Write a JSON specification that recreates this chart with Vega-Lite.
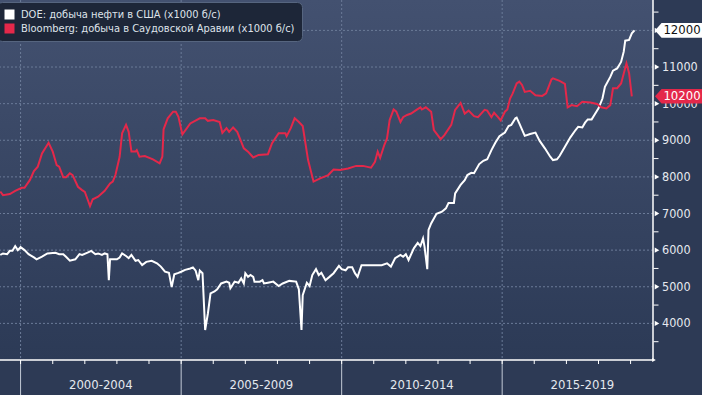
{
  "$schema": "https://vega.github.io/schema/vega-lite/v6.json",
  "width": 653,
  "height": 360,
  "autosize": {"type": "none"},
  "padding": {"left": 0, "top": 0, "right": 49, "bottom": 35},
  "background": "#2d3a55",
  "config": {
    "font": "DejaVu Sans Condensed",
    "view": {"stroke": null, "fill": {"gradient": "linear", "x1": 0, "y1": 0, "x2": 0, "y2": 1, "stops": [{"offset": 0, "color": "#435170"}, {"offset": 1, "color": "#2c3a56"}]}}
  },
  "datasets": {
    "doe": [
      {"date": "1999-05-15", "value": 5870}, {"date": "1999-06-15", "value": 5910}, {"date": "1999-08-01", "value": 5890}, {"date": "1999-09-01", "value": 5980}, {"date": "1999-10-01", "value": 5980}, {"date": "1999-11-01", "value": 6110}, {"date": "1999-12-01", "value": 6000},
      {"date": "2000-01-01", "value": 6080}, {"date": "2000-02-15", "value": 6000}, {"date": "2000-04-01", "value": 5890}, {"date": "2000-06-01", "value": 5800}, {"date": "2000-07-01", "value": 5750}, {"date": "2000-09-01", "value": 5820}, {"date": "2000-11-01", "value": 5910},
      {"date": "2001-02-01", "value": 5930}, {"date": "2001-03-15", "value": 5890}, {"date": "2001-05-01", "value": 5890}, {"date": "2001-06-01", "value": 5820}, {"date": "2001-07-15", "value": 5710}, {"date": "2001-09-15", "value": 5750}, {"date": "2001-11-01", "value": 5890}, {"date": "2001-12-01", "value": 5870},
      {"date": "2002-02-01", "value": 5930}, {"date": "2002-03-15", "value": 5980}, {"date": "2002-05-01", "value": 5890}, {"date": "2002-06-01", "value": 5910}, {"date": "2002-07-15", "value": 5870}, {"date": "2002-08-15", "value": 5910}, {"date": "2002-09-15", "value": 5890}, {"date": "2002-10-01", "value": 5180}, {"date": "2002-10-15", "value": 5750},
      {"date": "2003-01-01", "value": 5750}, {"date": "2003-02-01", "value": 5800}, {"date": "2003-03-01", "value": 5910}, {"date": "2003-04-15", "value": 5840}, {"date": "2003-05-15", "value": 5780}, {"date": "2003-06-15", "value": 5870}, {"date": "2003-08-01", "value": 5710}, {"date": "2003-09-01", "value": 5730}, {"date": "2003-10-15", "value": 5590}, {"date": "2003-12-01", "value": 5680},
      {"date": "2004-02-01", "value": 5710}, {"date": "2004-04-01", "value": 5640}, {"date": "2004-05-15", "value": 5550}, {"date": "2004-07-01", "value": 5410}, {"date": "2004-08-15", "value": 5380}, {"date": "2004-09-15", "value": 4990}, {"date": "2004-10-15", "value": 5340}, {"date": "2004-12-01", "value": 5380},
      {"date": "2005-01-01", "value": 5410}, {"date": "2005-02-15", "value": 5460}, {"date": "2005-04-15", "value": 5500}, {"date": "2005-05-15", "value": 5530}, {"date": "2005-06-15", "value": 5440}, {"date": "2005-07-15", "value": 5180}, {"date": "2005-08-01", "value": 5440}, {"date": "2005-09-01", "value": 5370}, {"date": "2005-10-01", "value": 3820}, {"date": "2005-11-01", "value": 4270}, {"date": "2005-12-01", "value": 4820},
      {"date": "2006-01-15", "value": 4870}, {"date": "2006-02-15", "value": 4930}, {"date": "2006-04-01", "value": 5090}, {"date": "2006-06-01", "value": 5140}, {"date": "2006-07-01", "value": 5110}, {"date": "2006-07-15", "value": 4960}, {"date": "2006-09-01", "value": 5140}, {"date": "2006-10-15", "value": 5110}, {"date": "2006-11-15", "value": 5230}, {"date": "2006-12-15", "value": 5090},
      {"date": "2007-01-01", "value": 5370}, {"date": "2007-02-01", "value": 5270}, {"date": "2007-03-01", "value": 5320}, {"date": "2007-04-01", "value": 5270}, {"date": "2007-04-15", "value": 5140}, {"date": "2007-06-15", "value": 5140}, {"date": "2007-07-15", "value": 5180}, {"date": "2007-08-01", "value": 5090}, {"date": "2007-09-15", "value": 5110}, {"date": "2007-11-15", "value": 5140},
      {"date": "2008-01-15", "value": 5020}, {"date": "2008-03-01", "value": 5090}, {"date": "2008-05-15", "value": 5160}, {"date": "2008-08-01", "value": 5140}, {"date": "2008-09-01", "value": 4930}, {"date": "2008-10-01", "value": 3820}, {"date": "2008-10-15", "value": 4770}, {"date": "2008-12-01", "value": 5110},
      {"date": "2009-01-01", "value": 5020}, {"date": "2009-02-01", "value": 5320}, {"date": "2009-03-15", "value": 5480}, {"date": "2009-04-15", "value": 5320}, {"date": "2009-05-15", "value": 5380}, {"date": "2009-07-01", "value": 5180}, {"date": "2009-08-15", "value": 5270}, {"date": "2009-10-01", "value": 5370}, {"date": "2009-12-01", "value": 5570},
      {"date": "2010-01-01", "value": 5480}, {"date": "2010-02-15", "value": 5450}, {"date": "2010-03-15", "value": 5530}, {"date": "2010-05-01", "value": 5530}, {"date": "2010-06-01", "value": 5370}, {"date": "2010-07-01", "value": 5270}, {"date": "2010-08-15", "value": 5590}, {"date": "2010-10-15", "value": 5590},
      {"date": "2011-04-01", "value": 5590}, {"date": "2011-06-01", "value": 5640}, {"date": "2011-07-15", "value": 5550}, {"date": "2011-09-01", "value": 5780}, {"date": "2011-11-01", "value": 5870}, {"date": "2011-12-01", "value": 5820},
      {"date": "2012-01-01", "value": 5890}, {"date": "2012-02-01", "value": 5730}, {"date": "2012-04-01", "value": 6050}, {"date": "2012-05-15", "value": 6200}, {"date": "2012-06-15", "value": 6110}, {"date": "2012-07-15", "value": 6320}, {"date": "2012-08-01", "value": 6090}, {"date": "2012-09-01", "value": 5480}, {"date": "2012-09-15", "value": 6550}, {"date": "2012-10-15", "value": 6730}, {"date": "2012-12-15", "value": 6990},
      {"date": "2013-02-15", "value": 7050}, {"date": "2013-04-01", "value": 7140}, {"date": "2013-05-01", "value": 7290}, {"date": "2013-07-01", "value": 7290}, {"date": "2013-07-15", "value": 7550}, {"date": "2013-09-15", "value": 7780}, {"date": "2013-11-01", "value": 7910}, {"date": "2013-12-01", "value": 8050},
      {"date": "2014-01-15", "value": 8110}, {"date": "2014-02-15", "value": 8100}, {"date": "2014-04-15", "value": 8350}, {"date": "2014-06-01", "value": 8440}, {"date": "2014-07-15", "value": 8480}, {"date": "2014-09-01", "value": 8730}, {"date": "2014-10-15", "value": 8930}, {"date": "2014-12-01", "value": 9110},
      {"date": "2015-02-01", "value": 9210}, {"date": "2015-03-15", "value": 9390}, {"date": "2015-04-15", "value": 9420}, {"date": "2015-06-01", "value": 9600}, {"date": "2015-06-15", "value": 9620}, {"date": "2015-07-15", "value": 9460}, {"date": "2015-09-15", "value": 9120}, {"date": "2015-11-15", "value": 9170},
      {"date": "2016-01-15", "value": 9210}, {"date": "2016-03-01", "value": 8990}, {"date": "2016-05-01", "value": 8780}, {"date": "2016-07-01", "value": 8550}, {"date": "2016-08-01", "value": 8460}, {"date": "2016-09-15", "value": 8480}, {"date": "2016-10-15", "value": 8570}, {"date": "2016-12-15", "value": 8820},
      {"date": "2017-02-15", "value": 9080}, {"date": "2017-04-15", "value": 9280}, {"date": "2017-05-15", "value": 9370}, {"date": "2017-07-01", "value": 9350}, {"date": "2017-08-01", "value": 9480}, {"date": "2017-09-01", "value": 9570}, {"date": "2017-10-15", "value": 9570}, {"date": "2017-11-15", "value": 9690},
      {"date": "2018-01-01", "value": 9870}, {"date": "2018-02-15", "value": 10140}, {"date": "2018-03-15", "value": 10460}, {"date": "2018-05-15", "value": 10730}, {"date": "2018-06-15", "value": 10900}, {"date": "2018-08-01", "value": 10960}, {"date": "2018-09-15", "value": 11140}, {"date": "2018-10-15", "value": 11420}, {"date": "2018-11-01", "value": 11720}, {"date": "2018-12-15", "value": 11740},
      {"date": "2019-01-15", "value": 11920}, {"date": "2019-02-15", "value": 12000}
    ],
    "bloomberg": [
      {"date": "1999-05-15", "value": 7600}, {"date": "1999-06-15", "value": 7500}, {"date": "1999-09-01", "value": 7530}, {"date": "1999-11-01", "value": 7620},
      {"date": "2000-01-15", "value": 7700}, {"date": "2000-02-15", "value": 7700}, {"date": "2000-04-15", "value": 7910}, {"date": "2000-06-01", "value": 8160}, {"date": "2000-07-15", "value": 8280}, {"date": "2000-09-01", "value": 8640}, {"date": "2000-11-15", "value": 8930},
      {"date": "2001-01-01", "value": 8690}, {"date": "2001-02-15", "value": 8320}, {"date": "2001-03-15", "value": 8280}, {"date": "2001-05-01", "value": 7990}, {"date": "2001-06-01", "value": 7990}, {"date": "2001-07-15", "value": 8100}, {"date": "2001-08-15", "value": 8050}, {"date": "2001-10-15", "value": 7730}, {"date": "2001-12-01", "value": 7640},
      {"date": "2002-01-01", "value": 7590}, {"date": "2002-02-01", "value": 7390}, {"date": "2002-03-01", "value": 7200}, {"date": "2002-04-01", "value": 7390}, {"date": "2002-06-01", "value": 7460}, {"date": "2002-08-15", "value": 7620}, {"date": "2002-10-15", "value": 7820}, {"date": "2002-11-15", "value": 7870}, {"date": "2002-12-15", "value": 8050},
      {"date": "2003-02-01", "value": 8550}, {"date": "2003-03-01", "value": 9190}, {"date": "2003-04-15", "value": 9420}, {"date": "2003-05-15", "value": 9230}, {"date": "2003-06-15", "value": 8690}, {"date": "2003-08-01", "value": 8690}, {"date": "2003-08-15", "value": 8730}, {"date": "2003-09-15", "value": 8550}, {"date": "2003-11-15", "value": 8570},
      {"date": "2004-02-15", "value": 8480}, {"date": "2004-05-01", "value": 8370}, {"date": "2004-06-01", "value": 8550}, {"date": "2004-06-15", "value": 9300}, {"date": "2004-08-01", "value": 9600}, {"date": "2004-10-01", "value": 9780}, {"date": "2004-11-01", "value": 9780}, {"date": "2004-12-01", "value": 9640},
      {"date": "2005-01-15", "value": 9160}, {"date": "2005-04-15", "value": 9460}, {"date": "2005-08-01", "value": 9600}, {"date": "2005-10-01", "value": 9600}, {"date": "2005-11-01", "value": 9530},
      {"date": "2006-01-01", "value": 9550}, {"date": "2006-03-15", "value": 9500}, {"date": "2006-04-15", "value": 9200}, {"date": "2006-06-01", "value": 9330}, {"date": "2006-07-01", "value": 9230}, {"date": "2006-08-15", "value": 9350}, {"date": "2006-10-01", "value": 9230}, {"date": "2006-12-15", "value": 8780},
      {"date": "2007-02-01", "value": 8690}, {"date": "2007-04-01", "value": 8530}, {"date": "2007-06-01", "value": 8600}, {"date": "2007-09-15", "value": 8620}, {"date": "2007-11-01", "value": 8920},
      {"date": "2008-01-15", "value": 9190}, {"date": "2008-04-01", "value": 9190}, {"date": "2008-04-15", "value": 9110}, {"date": "2008-06-01", "value": 9330}, {"date": "2008-07-15", "value": 9600}, {"date": "2008-09-01", "value": 9500}, {"date": "2008-10-15", "value": 9390}, {"date": "2008-12-15", "value": 8460},
      {"date": "2009-02-15", "value": 7870}, {"date": "2009-05-01", "value": 7960}, {"date": "2009-08-01", "value": 8050}, {"date": "2009-10-01", "value": 8200}, {"date": "2009-12-15", "value": 8190},
      {"date": "2010-03-15", "value": 8230}, {"date": "2010-06-15", "value": 8300}, {"date": "2010-09-01", "value": 8300}, {"date": "2010-12-01", "value": 8250},
      {"date": "2011-01-15", "value": 8410}, {"date": "2011-02-15", "value": 8690}, {"date": "2011-03-15", "value": 8520}, {"date": "2011-05-01", "value": 8870}, {"date": "2011-06-01", "value": 9050}, {"date": "2011-07-01", "value": 9550}, {"date": "2011-08-15", "value": 9840}, {"date": "2011-09-15", "value": 9780}, {"date": "2011-11-01", "value": 9500}, {"date": "2011-12-01", "value": 9630},
      {"date": "2012-01-15", "value": 9690}, {"date": "2012-03-01", "value": 9730}, {"date": "2012-05-01", "value": 9830}, {"date": "2012-06-15", "value": 9900}, {"date": "2012-07-01", "value": 9840}, {"date": "2012-08-15", "value": 9900}, {"date": "2012-10-15", "value": 9780}, {"date": "2012-11-15", "value": 9280},
      {"date": "2013-02-01", "value": 9030}, {"date": "2013-03-15", "value": 9140}, {"date": "2013-06-01", "value": 9420}, {"date": "2013-07-15", "value": 9830}, {"date": "2013-09-15", "value": 10020}, {"date": "2013-11-01", "value": 9730}, {"date": "2013-12-15", "value": 9810},
      {"date": "2014-02-15", "value": 9660}, {"date": "2014-04-01", "value": 9630}, {"date": "2014-06-15", "value": 9830}, {"date": "2014-07-15", "value": 9810}, {"date": "2014-09-01", "value": 9630}, {"date": "2014-10-01", "value": 9750}, {"date": "2014-11-15", "value": 9630}, {"date": "2014-12-15", "value": 9540},
      {"date": "2015-02-01", "value": 9780}, {"date": "2015-03-01", "value": 9840}, {"date": "2015-04-01", "value": 10140}, {"date": "2015-05-01", "value": 10280}, {"date": "2015-06-15", "value": 10550}, {"date": "2015-07-15", "value": 10600}, {"date": "2015-08-15", "value": 10510}, {"date": "2015-09-15", "value": 10320}, {"date": "2015-11-15", "value": 10350},
      {"date": "2016-01-15", "value": 10230}, {"date": "2016-04-01", "value": 10210}, {"date": "2016-05-15", "value": 10280}, {"date": "2016-07-15", "value": 10660}, {"date": "2016-08-01", "value": 10690}, {"date": "2016-10-15", "value": 10620}, {"date": "2016-12-15", "value": 10540},
      {"date": "2017-01-15", "value": 9900}, {"date": "2017-03-01", "value": 9960}, {"date": "2017-05-01", "value": 9930}, {"date": "2017-07-01", "value": 10050}, {"date": "2017-10-01", "value": 10030}, {"date": "2017-12-15", "value": 9990},
      {"date": "2018-02-01", "value": 9900}, {"date": "2018-04-01", "value": 9870}, {"date": "2018-05-15", "value": 9960}, {"date": "2018-06-15", "value": 10420}, {"date": "2018-08-01", "value": 10420}, {"date": "2018-09-15", "value": 10550}, {"date": "2018-11-15", "value": 11100}, {"date": "2018-12-15", "value": 10830},
      {"date": "2019-01-15", "value": 10200}
    ],
    "last": [
      {"series": "DOE: добыча нефти в США (x1000 б/с)", "last": 12000},
      {"series": "Bloomberg: добыча в Саудовской Аравии (x1000 б/с)", "last": 10200}
    ],
    "periods": [
      {"start": "2000-01-01", "mid": "2002-07-02", "label": "2000-2004"},
      {"start": "2005-01-01", "mid": "2007-07-02", "label": "2005-2009"},
      {"start": "2010-01-01", "mid": "2012-07-02", "label": "2010-2014"},
      {"start": "2015-01-01", "mid": "2017-07-02", "label": "2015-2019"}
    ],
    "years": [
      {"year": "2000-01-01"}, {"year": "2001-01-01"}, {"year": "2002-01-01"}, {"year": "2003-01-01"}, {"year": "2004-01-01"},
      {"year": "2005-01-01"}, {"year": "2006-01-01"}, {"year": "2007-01-01"}, {"year": "2008-01-01"}, {"year": "2009-01-01"},
      {"year": "2010-01-01"}, {"year": "2011-01-01"}, {"year": "2012-01-01"}, {"year": "2013-01-01"}, {"year": "2014-01-01"},
      {"year": "2015-01-01"}, {"year": "2016-01-01"}, {"year": "2017-01-01"}, {"year": "2018-01-01"}, {"year": "2019-01-01"}
    ],
    "levels": [
      {"level": 4000}, {"level": 5000}, {"level": 6000}, {"level": 7000}, {"level": 8000}, {"level": 9000}, {"level": 10000}, {"level": 11000}, {"level": 12000}
    ],
    "minor": [
      {"level": 3500}, {"level": 4500}, {"level": 5500}, {"level": 6500}, {"level": 7500}, {"level": 8500}, {"level": 9500}, {"level": 10500}, {"level": 11500}, {"level": 12500}
    ],
    "frame": [{"edge": "axis"}]
  },
  "layer": [
    {
      "data": {"name": "levels"},
      "mark": {"type": "rule", "color": "#6b7b98", "strokeWidth": 1, "strokeDash": [2, 2]},
      "encoding": {
        "y": {"field": "level", "type": "quantitative", "axis": null, "scale": {"domain": [3000, 12830], "nice": false, "zero": false}}
      }
    },
    {
      "data": {"name": "periods"},
      "mark": {"type": "rule", "color": "#6b7b98", "strokeWidth": 1, "strokeDash": [2, 2]},
      "encoding": {
        "x": {"field": "start", "type": "temporal", "axis": null, "scale": {"type": "utc", "nice": false, "domain": [{"year": 1999, "month": 5, "date": 12, "utc": true}, {"year": 2019, "month": 9, "date": 13, "utc": true}]}}
      }
    },
    {
      "data": {"name": "doe"},
      "mark": {"type": "line", "strokeWidth": 2},
      "encoding": {
        "x": {"field": "date", "type": "temporal", "axis": null},
        "y": {"field": "value", "type": "quantitative", "axis": null},
        "color": {
          "datum": "DOE: добыча нефти в США (x1000 б/с)", "type": "nominal",
          "scale": {"domain": ["DOE: добыча нефти в США (x1000 б/с)", "Bloomberg: добыча в Саудовской Аравии (x1000 б/с)"], "range": ["#ffffff", "#e4284a"]},
          "legend": {
            "title": null,
            "orient": "none",
            "legendX": -3,
            "legendY": 2,
            "padding": 7,
            "fillColor": "#1d2638",
            "strokeColor": "#56657f",
            "cornerRadius": 5,
            "symbolType": "square",
            "symbolSize": 100,
            "symbolStrokeWidth": 0,
            "labelFont": "DejaVu Sans Condensed",
            "labelFontSize": 11,
            "labelColor": "#dfe3ea",
            "labelLimit": 400,
            "labelOffset": 6,
            "rowPadding": 2,
            "encode": {"symbols": {"update": {"fill": {"scale": "color", "field": "value"}, "strokeWidth": {"value": 0}, "opacity": {"value": 1}}}}
          }
        }
      }
    },
    {
      "data": {"name": "bloomberg"},
      "mark": {"type": "line", "strokeWidth": 2},
      "encoding": {
        "x": {"field": "date", "type": "temporal", "axis": null},
        "y": {"field": "value", "type": "quantitative", "axis": null},
        "color": {"datum": "Bloomberg: добыча в Саудовской Аравии (x1000 б/с)", "type": "nominal"}
      }
    },
    {
      "data": {"name": "periods"},
      "mark": {"type": "rule", "color": "#c3cad6", "strokeWidth": 1},
      "encoding": {
        "x": {"field": "start", "type": "temporal", "axis": null},
        "y": {"datum": 3000, "type": "quantitative", "axis": null},
        "y2": {"datum": 2040}
      }
    },
    {
      "data": {"name": "periods"},
      "mark": {"type": "text", "fontSize": 13, "color": "#e4e8ee", "align": "center", "baseline": "middle", "font": "DejaVu Sans Condensed"},
      "encoding": {
        "x": {"field": "mid", "type": "temporal", "axis": null},
        "y": {"datum": 2330, "type": "quantitative", "axis": null},
        "text": {"field": "label", "type": "nominal"}
      }
    },
    {
      "data": {"name": "years"},
      "mark": {"type": "rule", "color": "#ffffff", "strokeWidth": 1},
      "encoding": {
        "x": {"field": "year", "type": "temporal", "axis": null},
        "y": {"datum": 3000, "type": "quantitative", "axis": null},
        "y2": {"datum": 2890}
      }
    },
    {
      "data": {"name": "frame"},
      "mark": {"type": "rule", "color": "#ffffff", "strokeWidth": 1.5},
      "encoding": {
        "y": {"datum": 3000, "type": "quantitative", "axis": null}
      }
    },
    {
      "data": {"name": "frame"},
      "mark": {"type": "rule", "color": "#ffffff", "strokeWidth": 1.5},
      "encoding": {
        "x": {"value": "width"}
      }
    },
    {
      "data": {"name": "frame"},
      "mark": {"type": "point", "shape": "triangle-right", "size": 18, "filled": true, "color": "#ffffff", "opacity": 1, "xOffset": 1},
      "encoding": {
        "x": {"value": "width"},
        "y": {"datum": 3000, "type": "quantitative", "axis": null}
      }
    },
    {
      "data": {"name": "minor"},
      "mark": {"type": "point", "shape": "stroke", "size": 25, "filled": false, "color": "#ffffff", "opacity": 1, "strokeWidth": 1, "xOffset": 3},
      "encoding": {
        "x": {"value": "width"},
        "y": {"field": "level", "type": "quantitative", "axis": null}
      }
    },
    {
      "data": {"name": "levels"},
      "mark": {"type": "point", "shape": "triangle-right", "size": 28, "filled": true, "color": "#ffffff", "opacity": 1, "xOffset": 4},
      "encoding": {
        "x": {"value": "width"},
        "y": {"field": "level", "type": "quantitative", "axis": null}
      }
    },
    {
      "data": {"name": "levels"},
      "transform": [{"filter": "datum.level < 12000"}],
      "mark": {"type": "text", "dx": 9, "fontSize": 12.5, "align": "left", "baseline": "middle", "color": "#e6e9ef", "font": "DejaVu Sans Condensed"},
      "encoding": {
        "x": {"value": "width"},
        "y": {"field": "level", "type": "quantitative", "axis": null},
        "text": {"field": "level", "type": "quantitative", "format": "d"}
      }
    },
    {
      "data": {"name": "last"},
      "mark": {"type": "point", "shape": "M-1,0L-0.72,-0.31L1,-0.31L1,0.31L-0.72,0.31Z", "size": 2209, "filled": true, "opacity": 1, "strokeWidth": 0, "xOffset": 25.5},
      "encoding": {
        "x": {"value": "width"},
        "y": {"field": "last", "type": "quantitative", "axis": null},
        "color": {"field": "series", "type": "nominal", "legend": null}
      }
    },
    {
      "data": {"name": "last"},
      "mark": {"type": "text", "dx": 29, "fontSize": 13, "align": "center", "baseline": "middle", "font": "DejaVu Sans Condensed"},
      "encoding": {
        "x": {"value": "width"},
        "y": {"field": "last", "type": "quantitative", "axis": null},
        "text": {"field": "last", "type": "quantitative", "format": "d"},
        "color": {"condition": {"test": "datum.series == 'DOE: добыча нефти в США (x1000 б/с)'", "value": "#111111"}, "value": "#ffffff"}
      }
    }
  ]
}
